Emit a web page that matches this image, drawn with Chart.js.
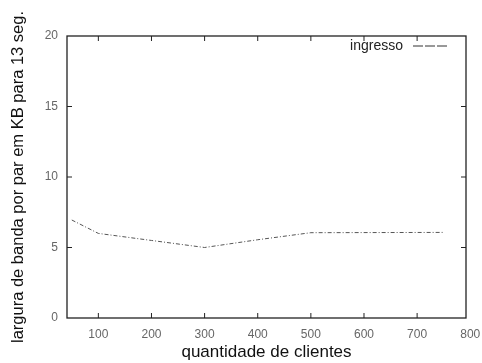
<!DOCTYPE html>
<html><head><meta charset="utf-8">
<script src="https://cdn.jsdelivr.net/npm/chart.js@4/dist/chart.umd.min.js"></script>
<style>html,body{margin:0;padding:0;background:#fff}#wrap{width:482px;height:363px}</style>
</head><body><div id="wrap"><canvas id="c" width="482" height="363"></canvas></div>
<script>
const clientes = [50, 100, 200, 300, 400, 500, 750];
const ingresso = [6.95, 6.0, 5.5, 5.0, 5.55, 6.05, 6.07];
const xTicks = [100, 200, 300, 400, 500, 600, 700, 800];
const yTicks = [0, 5, 10, 15, 20];
const seriesLabel = 'ingresso';
const xTitle = 'quantidade de clientes';
const yTitle = 'largura de banda por par em KB para 13 seg.';
const FONT = '"Liberation Sans", Arial, sans-serif';

const framePlugin = {
  id: 'frame',
  afterDatasetsDraw(chart) {
    const {ctx, chartArea: a, scales} = chart;
    ctx.save();
    ctx.strokeStyle = '#222';
    ctx.lineWidth = 1.3;
    ctx.strokeRect(a.left, a.top, a.right - a.left, a.bottom - a.top);
    ctx.lineWidth = 1;
    const tl = 5;
    xTicks.forEach(v => {
      const x = scales.x.getPixelForValue(v);
      if (x <= a.left + 1 || x >= a.right - 1) return;
      ctx.beginPath();
      ctx.moveTo(x, a.bottom); ctx.lineTo(x, a.bottom - tl);
      ctx.moveTo(x, a.top); ctx.lineTo(x, a.top + tl);
      ctx.stroke();
    });
    yTicks.forEach(v => {
      const y = scales.y.getPixelForValue(v);
      if (y <= a.top + 1 || y >= a.bottom - 1) return;
      ctx.beginPath();
      ctx.moveTo(a.left, y); ctx.lineTo(a.left + tl, y);
      ctx.moveTo(a.right, y); ctx.lineTo(a.right - tl, y);
      ctx.stroke();
    });
    // legend
    ctx.font = '14px ' + FONT;
    ctx.fillStyle = '#222';
    ctx.textAlign = 'right';
    ctx.textBaseline = 'middle';
    const ly = a.top + 10;
    ctx.fillText(seriesLabel, a.right - 63, ly);
    ctx.strokeStyle = '#333';
    ctx.setLineDash([10, 2]);
    ctx.beginPath();
    ctx.moveTo(a.right - 53, ly); ctx.lineTo(a.right - 19, ly);
    ctx.stroke();
    ctx.restore();
  }
};

new Chart(document.getElementById('c'), {
  type: 'line',
  data: {
    datasets: [{
      label: seriesLabel,
      data: clientes.map((x, i) => ({x, y: ingresso[i]})),
      borderColor: '#555',
      borderWidth: 1,
      borderDash: [4, 2, 1, 2],
      pointRadius: 0,
      tension: 0,
      fill: false
    }]
  },
  options: {
    responsive: false,
    animation: false,
    layout: {padding: {top: 36, right: 16, left: 0, bottom: 0}},
    plugins: {legend: {display: false}, tooltip: {enabled: false}},
    scales: {
      x: {
        type: 'linear', min: 41, max: 792,
        afterBuildTicks: s => { s.ticks = xTicks.map(v => ({value: v})); },
        afterFit: s => { s.height = 45; s.paddingLeft = 0; s.paddingRight = 0; },
        grid: {display: false, drawTicks: false},
        border: {display: false},
        ticks: {color: '#666', padding: 9, font: {size: 12, family: FONT}, maxRotation: 0},
        title: {display: true, text: xTitle, color: '#111', padding: {top: 0, bottom: 0}, font: {size: 17, family: FONT}}
      },
      y: {
        min: 0, max: 20,
        afterBuildTicks: s => { s.ticks = yTicks.map(v => ({value: v})); },
        afterFit: s => { s.width = 67; s.paddingTop = 0; s.paddingBottom = 0; },
        grid: {display: false, drawTicks: false},
        border: {display: false},
        ticks: {color: '#666', padding: 9, font: {size: 12, family: FONT}},
        title: {display: true, text: yTitle, color: '#111', padding: {top: 9, bottom: 0}, font: {size: 16.5, family: FONT}}
      }
    }
  },
  plugins: [framePlugin]
});
</script></body></html>
